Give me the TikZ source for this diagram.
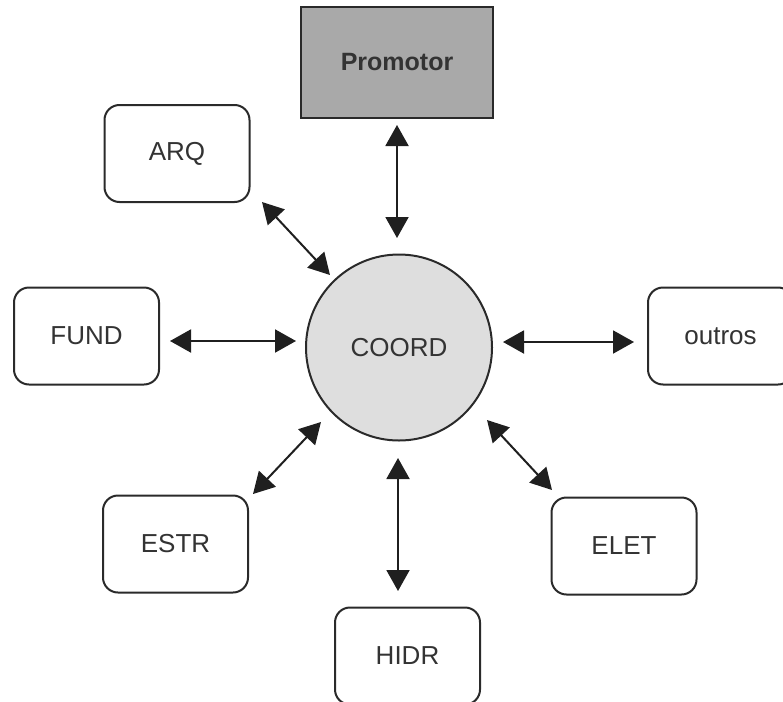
\documentclass[tikz,border=0pt]{standalone}
\usepackage{fontspec}
\setmainfont{Liberation Sans}
\usetikzlibrary{arrows.meta}
\definecolor{edgecol}{HTML}{2A2A2A}
\definecolor{txtcol}{HTML}{333333}
\definecolor{promfill}{HTML}{A9A9A9}
\definecolor{circfill}{HTML}{DEDEDE}
\tikzset{
  rbox/.style={draw=edgecol, line width=2pt, rounded corners=15pt, fill=white,
    minimum width=145pt, minimum height=97pt, inner sep=0pt, outer sep=0pt,
    text=txtcol, font=\fontsize{26}{30}\selectfont},
  prombox/.style={draw=edgecol, line width=2.2pt, fill=promfill,
    minimum width=192pt, minimum height=111pt, inner sep=0pt, outer sep=0pt,
    text=txtcol, font=\bfseries\fontsize{25}{30}\selectfont},
  circnode/.style={circle, draw=edgecol, line width=2pt, fill=circfill,
    minimum size=186pt, inner sep=0pt, outer sep=0pt,
    text=txtcol, font=\fontsize{26}{30}\selectfont},
  link/.style={line width=2pt, draw=black!88,
    {Triangle[length=21pt,width=23pt]}-{Triangle[length=21pt,width=23pt]}}
}
\begin{document}
\begin{tikzpicture}[x=1pt,y=-1pt]
\useasboundingbox (0,0) rectangle (783,701);
\clip (0,0) rectangle (783,701);
\node[prombox] (prom) at (397,62.5) {Promotor};
\node[rbox] (arq) at (177,153.5) {ARQ};
\node[rbox] (fund) at (86.5,336) {FUND};
\node[rbox] (outros) at (720.5,336) {outros};
\node[rbox] (estr) at (175.5,544) {ESTR};
\node[rbox] (elet) at (624,546) {ELET};
\node[rbox] (hidr) at (407.5,656) {HIDR};
\node[circnode] (coord) at (399,347.5) {COORD};
% arrow end points
\coordinate (p1) at (397,125); \coordinate (p2) at (397,238);
\coordinate (a1) at (262,202); \coordinate (a2) at (330,275);
\coordinate (f1) at (170,341); \coordinate (f2) at (296,341);
\coordinate (o1) at (503,342); \coordinate (o2) at (634,342);
\coordinate (e1) at (253,494); \coordinate (e2) at (321,422);
\coordinate (l1) at (487,420); \coordinate (l2) at (552,490);
\coordinate (h1) at (398,458); \coordinate (h2) at (398,591);
\draw[link] (p1) -- (p2);
\draw[link] (a1) -- (a2);
\draw[link] (f1) -- (f2);
\draw[link] (o1) -- (o2);
\draw[link] (e1) -- (e2);
\draw[link] (l1) -- (l2);
\draw[link] (h1) -- (h2);
\end{tikzpicture}
\end{document}
